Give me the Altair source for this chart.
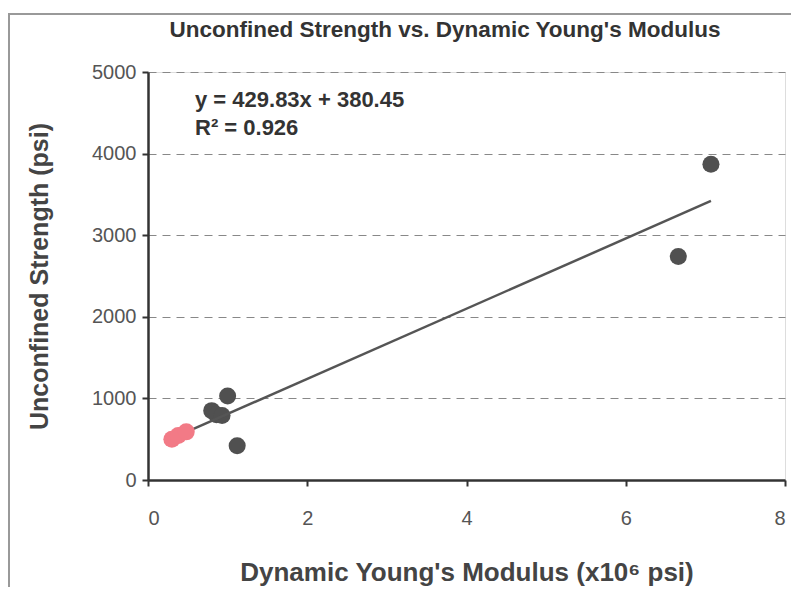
import altair as alt
import pandas as pd

# Data
gray_x = [0.80, 0.86, 0.93, 1.00, 1.12, 6.66, 7.07]
gray_y = [850, 800, 790, 1030, 420, 2740, 3870]
pink_x = [0.30, 0.38, 0.48]
pink_y = [500, 545, 590]

slope = 429.83
intercept = 380.45
eq_lines = ["y = 429.83x + 380.45", "R² = 0.926"]
title_text = "Unconfined Strength vs. Dynamic Young's Modulus"

x_ticks = [0, 2, 4, 6, 8]
y_ticks = [0, 1000, 2000, 3000, 4000, 5000]

gray_df = pd.DataFrame({"x": gray_x, "y": gray_y})
pink_df = pd.DataFrame({"x": pink_x, "y": pink_y})
xmin = min(pink_x + gray_x)
xmax = max(pink_x + gray_x)
line_df = pd.DataFrame({"x": [xmin, xmax], "y": [slope * xmin + intercept, slope * xmax + intercept]})
eq_df = pd.DataFrame({"t": ["\n".join(eq_lines)]})
title_df = pd.DataFrame({"t": [title_text]})

FONT = "Liberation Sans"

xenc = alt.X("x:Q", scale=alt.Scale(domain=[0, 8], nice=False),
             axis=alt.Axis(values=x_ticks, title="Dynamic Young's Modulus  (x10⁶ psi)",
                           format="d", grid=False, tickSize=6, labelPadding=22, titlePadding=31,
                           labelFontSize=20, labelColor="#555", labelFont=FONT,
                           titleFontSize=26, titleFont=FONT, titleFontWeight="bold",
                           titleColor="#444", domainColor="#333", domainWidth=2.5,
                           tickColor="#333", tickWidth=2))
yenc = alt.Y("y:Q", scale=alt.Scale(domain=[0, 5000], nice=False),
             axis=alt.Axis(values=y_ticks, title="Unconfined Strength (psi)",
                           format="d", grid=True, gridDash=[8, 6], gridColor="#888", gridWidth=1,
                           tickSize=6, labelPadding=6, titlePadding=39,
                           labelFontSize=20, labelColor="#555", labelFont=FONT,
                           titleFontSize=25, titleFont=FONT, titleFontWeight="bold",
                           titleColor="#444", domainColor="#333", domainWidth=2.5,
                           tickColor="#333", tickWidth=2))

frame_top = alt.Chart(alt.Data(values=[{}])).mark_rule(
    stroke="#999", strokeWidth=2, clip=False
).encode(x=alt.value(-140), x2=alt.value(660), y=alt.value(-58))
frame_left = alt.Chart(alt.Data(values=[{}])).mark_rule(
    stroke="#999", strokeWidth=2, clip=False
).encode(x=alt.value(-139), y=alt.value(-59), y2=alt.value(540))

reg = alt.Chart(line_df).mark_line(color="#555", strokeWidth=2.5).encode(x=xenc, y=yenc)
gray = alt.Chart(gray_df).mark_circle(size=290, color="#505050", opacity=1).encode(x=xenc, y=yenc)
pink = alt.Chart(pink_df).mark_circle(size=290, color="#f27a86", opacity=1).encode(x=xenc, y=yenc)

eq = alt.Chart(eq_df).mark_text(
    align="left", baseline="middle", font=FONT, fontSize=22, fontWeight="bold", color="#333",
    lineBreak="\n", lineHeight=28
).encode(x=alt.value(47), y=alt.value(28), text="t:N")

title = alt.Chart(title_df).mark_text(
    align="center", baseline="middle", font=FONT,
    fontSize=22.5, fontWeight="bold", color="#333", clip=False
).encode(x=alt.value(297), y=alt.value(-42), text="t:N")

chart = alt.layer(gray, reg, pink, eq, title, frame_top, frame_left).properties(
    width=637, height=408,
    autosize=alt.AutoSizeParams(type="none"),
    padding={"left": 140, "top": 64, "right": 6, "bottom": 107},
).configure_view(stroke="#777", strokeWidth=2).configure(background="white")

chart.save("out.html", embed_options={"renderer": "svg", "actions": False})
